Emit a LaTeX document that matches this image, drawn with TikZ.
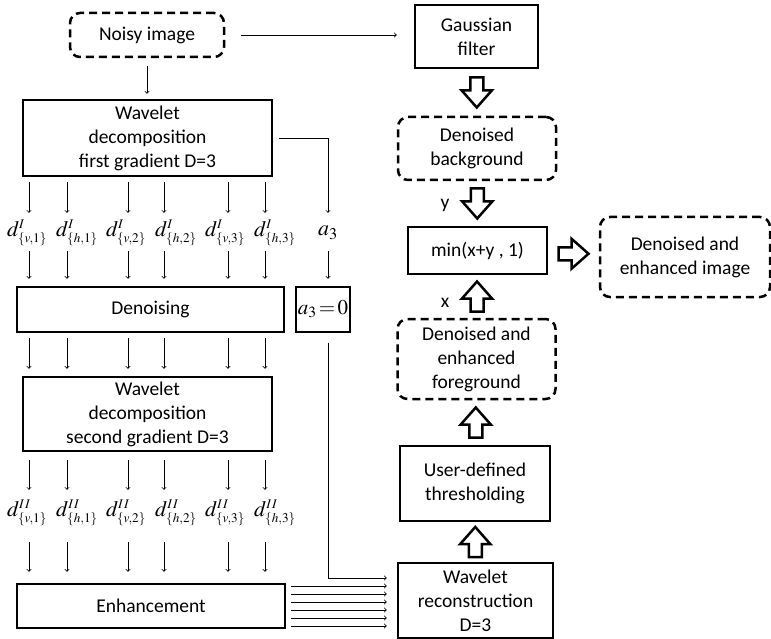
\documentclass[tikz,border=0pt]{standalone}
\usepackage{amsmath}
\usepackage{mathptmx}
\usepackage[no-math]{fontspec}
\setmainfont{Carlito}
\usetikzlibrary{positioning,arrows,calc}

\tikzset{
    blk/.style={draw, line width=2.5pt, align=center, inner sep=0pt},
    dsh/.style={blk, dash pattern=on 8pt off 5pt, rounded corners=10pt},
    conn/.style={line width=0.8pt, -to},
    lbl/.style={inner sep=0pt, minimum height=36pt, font=\fontsize{22}{26}\selectfont},
    fatarrow/.pic={
        \draw[line width=2.5pt, fill=white, line join=miter]
            (-15,-6.5) -- (-2,-6.5) -- (-2,-15) -- (15,0) -- (-2,15) -- (-2,6.5) -- (-15,6.5) -- cycle;}
}
\newcommand{\coef}[2]{$d^{\scriptscriptstyle #1}_{\scriptscriptstyle\{#2\}}$}

\begin{document}
\begin{tikzpicture}[x=1pt, y=-1pt, font=\fontsize{19.5}{24}\selectfont]
    \useasboundingbox (0,0) rectangle (771,639);

    %% Left branch
    \node[dsh, minimum width=154pt, minimum height=44pt] (noisy) at (147,35) {Noisy image};
    \node[blk, minimum width=249pt, minimum height=76pt] (wd1) at (147.5,138)
        {Wavelet\\decomposition\\first gradient D=3};
    \node[blk, minimum width=267pt, minimum height=45pt] (den) at (150.5,309.5) {Denoising};
    \node[blk, minimum width=54pt, minimum height=45pt, font=\fontsize{21}{26}\selectfont] (azero)
        at (323,309.5) {$a_3\!=\!0$};
    \node[blk, minimum width=249pt, minimum height=74pt] (wd2) at (147.5,414)
        {Wavelet\\decomposition\\second gradient D=3};
    \node[blk, minimum width=268pt, minimum height=44pt] (enh) at (151,606) {Enhancement};

    %% Right branch
    \node[blk, minimum width=123pt, minimum height=63pt] (gauss) at (476.5,36.5) {Gaussian\\filter};
    \node[dsh, minimum width=158pt, minimum height=63pt] (bg) at (477,148.5) {Denoised\\background};
    \node[blk, minimum width=139pt, minimum height=47pt] (minxy) at (477.5,250.5) {min(x+y , 1)};
    \node[dsh, minimum width=170pt, minimum height=80pt] (result) at (685,257)
        {Denoised and\\enhanced image};
    \node[dsh, minimum width=158pt, minimum height=80pt] (fg) at (476.5,359)
        {Denoised and\\enhanced\\foreground};
    \node[blk, minimum width=150pt, minimum height=75pt] (thr) at (475,483.5) {User-defined\\thresholding};
    \node[blk, minimum width=155pt, minimum height=75pt] (rec) at (475.5,600.5)
        {Wavelet\\reconstruction\\D=3};

    \node (ylbl) at (445,205) {y};
    \node (xlbl) at (445,303) {x};

    %% Coefficients
    \node[lbl] (a3) at (328,233) {$a_3$};
    \foreach \x/\s/\dx [count=\i] in {29/{v,1}/-2, 67/{h,1}/10, 128/{v,2}/-2, 164/{h,2}/12,
                                      228/{v,3}/-3, 265/{h,3}/10} {
        \coordinate (cI\i) at (\x,233);
        \coordinate (cII\i) at (\x,513);
        \node[lbl] (dI\i) at ([xshift=\dx pt]cI\i) {\coef{I}{\s}};
        \node[lbl] (dII\i) at ([xshift=\dx pt]cII\i) {\coef{I\mkern1mu I}{\s}};
        \draw[conn, shorten <=5pt, shorten >=2pt] (wd1.south -| cI\i) -- (cI\i |- dI\i.north);
        \draw[conn, shorten >=7pt] (cI\i |- dI\i.south) -- (cI\i |- den.north);
        \draw[conn, shorten <=5pt, shorten >=7pt] (den.south -| cI\i) -- (cI\i |- wd2.north);
        \draw[conn, shorten <=8pt, shorten >=5pt] (wd2.south -| cII\i) -- (cII\i |- dII\i.north);
        \draw[conn, shorten <=11pt, shorten >=11pt] (cII\i |- dII\i.south) -- (cII\i |- enh.north);
    }

    %% Thin connectors
    \draw[conn, shorten <=16pt, shorten >=17pt] (noisy.east) -- (noisy.east -| gauss.west);
    \draw[conn, shorten <=8pt, shorten >=5pt] (noisy.south) -- (noisy.south |- wd1.north);
    \draw[conn, shorten <=6pt, shorten >=2pt] (wd1.east) -| (a3);
    \draw[conn, shorten >=7pt] (a3) -- (a3 |- azero.north);
    \draw[conn, shorten <=10pt, shorten >=10pt] (azero.south -| a3) |- ($(rec.west)+(0,-22.5)$);
    \foreach \y in {586,594,...,626}
        \draw[conn, shorten <=5pt, shorten >=10pt] (enh.east |- 0,\y) -- (rec.west |- 0,\y);

    %% Block arrows
    \pic[rotate=-90] at ($(gauss.south)!.5!(bg.north)$) {fatarrow};
    \pic[rotate=-90] at ($(bg.south)!.5!(minxy.north)$) {fatarrow};
    \pic[rotate=90] at ($(minxy.south)!.5!(fg.north)$) {fatarrow};
    \pic[rotate=90] at ($(fg.south)!.5!(thr.north)$) {fatarrow};
    \pic[rotate=90] at ($(thr.south)!.5!(rec.north)$) {fatarrow};
    \pic at ($(minxy.east)!.5!(result.west)$) {fatarrow};
\end{tikzpicture}
\end{document}
